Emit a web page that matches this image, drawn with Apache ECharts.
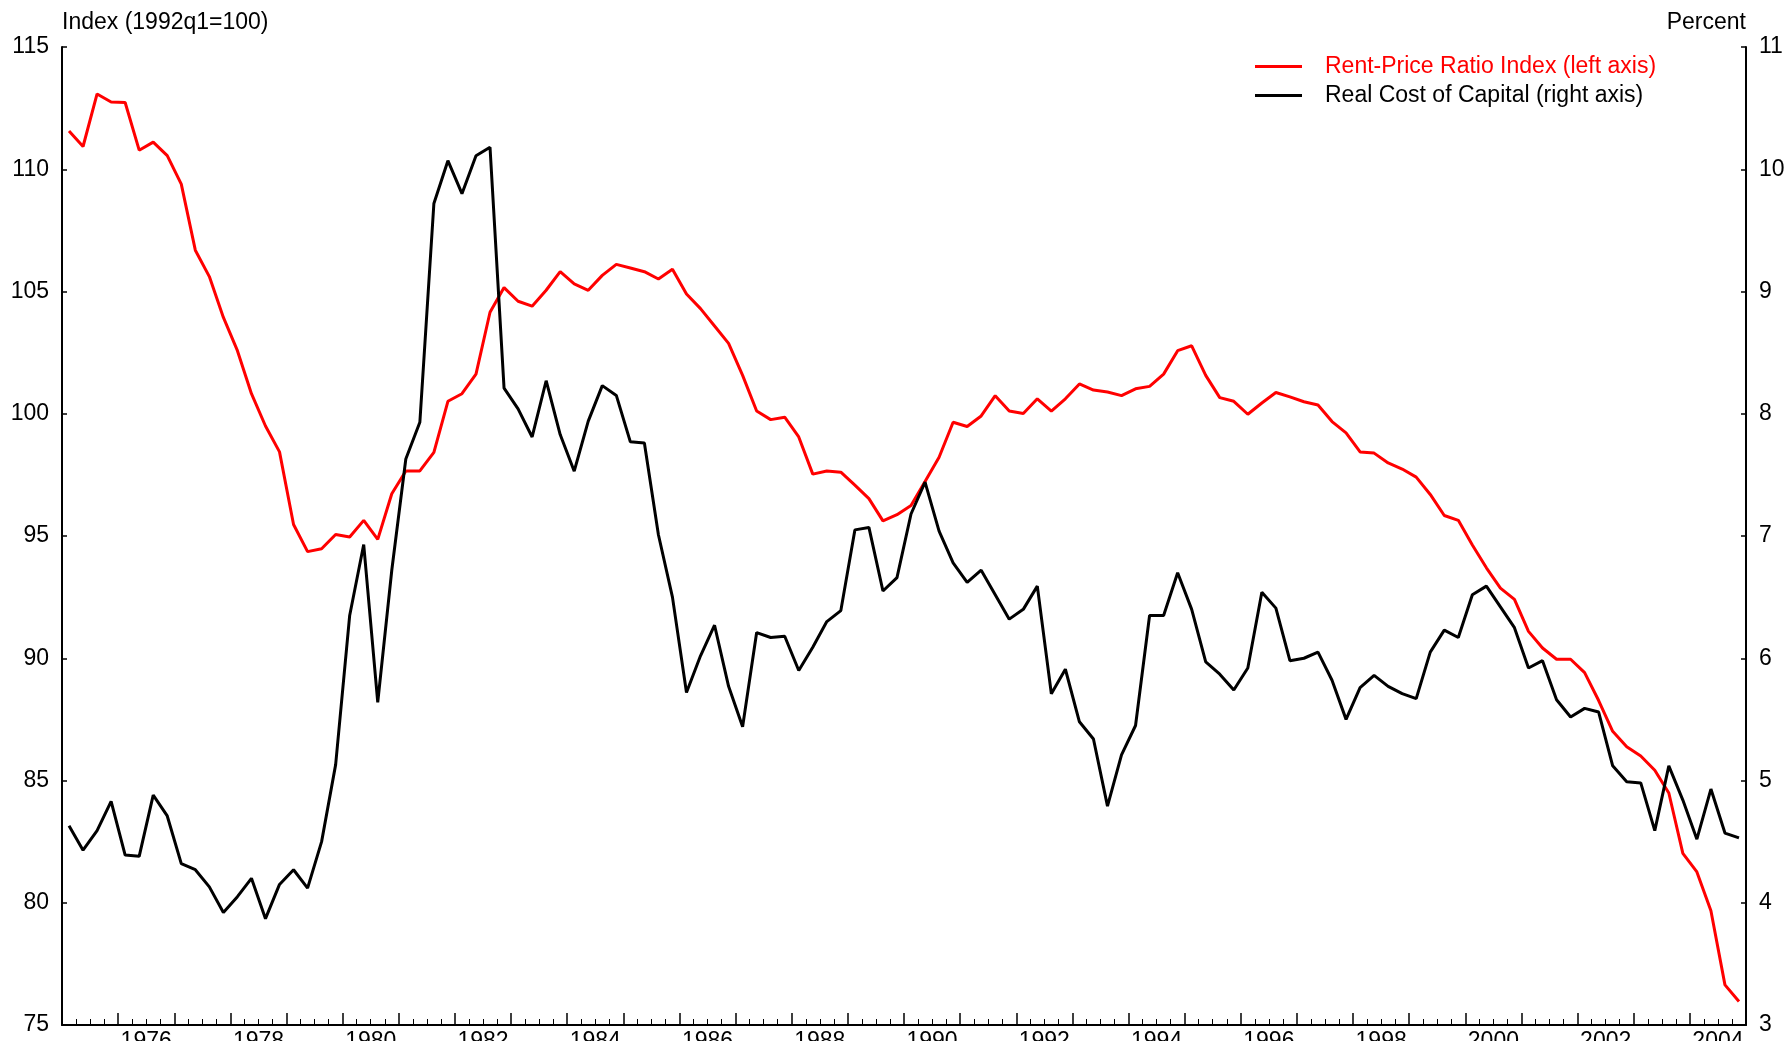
<!DOCTYPE html>
<html>
<head>
<meta charset="utf-8">
<title>Rent-Price Ratio and Real Cost of Capital</title>
<script src="https://cdn.jsdelivr.net/npm/echarts@6/dist/echarts.min.js"></script>
<style>
  html, body { margin: 0; padding: 0; background: #fff; }
  #main { width: 1789px; height: 1041px; }
</style>
</head>
<body>
<div id="main"></div>
<script>
// quarterly data, 1975q1 - 2004q4
const startYear = 1975;
const endYear = 2004;

const rentPrice = [
  111.56, 110.93, 113.08, 112.75, 112.73, 110.78, 111.11, 110.56, 109.39, 106.69,
  105.61, 103.94, 102.58, 100.82, 99.50, 98.44, 95.47, 94.36, 94.48, 95.06,
  94.96, 95.64, 94.86, 96.73, 97.66, 97.66, 98.42, 100.51, 100.82, 101.62,
  104.15, 105.16, 104.60, 104.40, 105.05, 105.81, 105.31, 105.05, 105.66, 106.11,
  105.96, 105.81, 105.51, 105.91, 104.90, 104.30, 103.59, 102.88, 101.57, 100.11,
  99.76, 99.86, 99.05, 97.53, 97.66, 97.61, 97.08, 96.53, 95.62, 95.87,
  96.25, 97.23, 98.22, 99.65, 99.48, 99.91, 100.74, 100.11, 100.01, 100.61,
  100.11, 100.61, 101.22, 100.97, 100.89, 100.74, 101.02, 101.12, 101.62, 102.58,
  102.78, 101.57, 100.66, 100.51, 99.98, 100.44, 100.87, 100.69, 100.49, 100.36,
  99.68, 99.22, 98.44, 98.39, 97.99, 97.74, 97.41, 96.70, 95.84, 95.64,
  94.63, 93.70, 92.87, 92.41, 91.10, 90.42, 89.96, 89.96, 89.41, 88.27,
  87.01, 86.38, 86.00, 85.42, 84.49, 82.02, 81.26, 79.67, 76.64, 75.96
];

const costCapital = [
  4.63, 4.43, 4.59, 4.83, 4.39, 4.38, 4.88, 4.71, 4.32, 4.27,
  4.13, 3.92, 4.05, 4.20, 3.87, 4.15, 4.27, 4.12, 4.50, 5.13,
  6.35, 6.93, 5.64, 6.72, 7.63, 7.93, 9.72, 10.07, 9.80, 10.11,
  10.18, 8.21, 8.04, 7.81, 8.27, 7.83, 7.53, 7.94, 8.23, 8.15,
  7.77, 7.76, 7.01, 6.50, 5.72, 6.02, 6.27, 5.77, 5.44, 6.21,
  6.17, 6.18, 5.90, 6.09, 6.30, 6.39, 7.05, 7.07, 6.55, 6.66,
  7.18, 7.44, 7.04, 6.78, 6.62, 6.72, 6.52, 6.32, 6.40, 6.59,
  5.71, 5.91, 5.48, 5.34, 4.79, 5.21, 5.45, 6.35, 6.35, 6.70,
  6.40, 5.97, 5.87, 5.74, 5.92, 6.54, 6.41, 5.98, 6.00, 6.05,
  5.82, 5.50, 5.76, 5.86, 5.77, 5.71, 5.67, 6.05, 6.23, 6.17,
  6.52, 6.59, 6.42, 6.25, 5.92, 5.98, 5.66, 5.52, 5.59, 5.56,
  5.12, 4.99, 4.98, 4.59, 5.12, 4.84, 4.52, 4.93, 4.57, 4.53
];

const yearLabels = ['1976', '1978', '1980', '1982', '1984', '1986', '1988', '1990',
  '1992', '1994', '1996', '1998', '2000', '2002', '2004'];

const leftTicks = [75, 80, 85, 90, 95, 100, 105, 110, 115];
const rightTicks = [3, 4, 5, 6, 7, 8, 9, 10, 11];

const quarters = [];
for (let y = startYear; y <= endYear; y++) {
  for (let q = 1; q <= 4; q++) quarters.push(y + 'q' + q);
}

const font = 'Liberation Sans, Arial, Helvetica, sans-serif';
const fs = 23;
const redName = 'Rent-Price Ratio Index (left axis)';
const blackName = 'Real Cost of Capital (right axis)';

const chart = echarts.init(document.getElementById('main'));
chart.setOption({
  animation: false,
  backgroundColor: '#fff',
  textStyle: { fontFamily: font, color: '#000' },
  grid: { left: 62, right: 43, top: 47, bottom: 16, containLabel: false, outerBoundsMode: 'none' },
  legend: {
    left: 1255,
    top: 55,
    orient: 'vertical',
    padding: 0,
    icon: 'rect',
    itemWidth: 47,
    itemHeight: 3,
    itemGap: 6,
    textStyle: { fontSize: fs, lineHeight: 23, fontFamily: font, padding: [0, 0, 0, 18] },
    data: [
      { name: redName, textStyle: { color: '#ff0000' } },
      { name: blackName, textStyle: { color: '#000000' } }
    ]
  },
  xAxis: [
    {
      // data axis: one band per quarter
      type: 'category',
      data: quarters,
      boundaryGap: true,
      show: false
    },
    {
      // year ticks with quarter minor ticks
      type: 'value',
      position: 'bottom',
      min: startYear,
      max: endYear + 1,
      interval: 1,
      axisLine: { show: true, lineStyle: { color: '#000', width: 2 } },
      axisTick: { show: true, inside: true, length: 12, lineStyle: { color: '#000', width: 1.5 } },
      minorTick: { show: true, splitNumber: 4, length: 6, lineStyle: { color: '#000', width: 1 } },
      axisLabel: { show: false },
      splitLine: { show: false }
    },
    {
      // labels centred on the year (shifted half a year)
      type: 'value',
      position: 'bottom',
      min: startYear - 0.5,
      max: endYear + 0.5,
      interval: 0.5,
      axisLine: { show: false },
      axisTick: { show: false },
      splitLine: { show: false },
      axisLabel: {
        show: true,
        margin: 5,
        fontSize: fs,
        color: '#000',
        formatter: function (v) {
          const s = String(v);
          return yearLabels.indexOf(s) >= 0 ? s : '';
        }
      }
    }
  ],
  yAxis: [
    {
      type: 'value',
      position: 'left',
      min: leftTicks[0],
      max: leftTicks[leftTicks.length - 1],
      interval: 5,
      name: 'Index (1992q1=100)',
      nameLocation: 'end',
      nameGap: 24,
      nameTextStyle: { fontSize: fs, color: '#000', align: 'left', verticalAlign: 'middle' },
      axisLine: { show: true, lineStyle: { color: '#000', width: 2 } },
      axisTick: { show: true, inside: true, length: 5, lineStyle: { color: '#000', width: 1.5 } },
      axisLabel: { fontSize: fs, color: '#000', margin: 13 },
      splitLine: { show: false }
    },
    {
      type: 'value',
      position: 'right',
      min: rightTicks[0],
      max: rightTicks[rightTicks.length - 1],
      interval: 1,
      name: 'Percent',
      nameLocation: 'end',
      nameGap: 24,
      nameTextStyle: { fontSize: fs, color: '#000', align: 'right', verticalAlign: 'middle' },
      axisLine: { show: true, lineStyle: { color: '#000', width: 2 } },
      axisTick: { show: true, inside: true, length: 5, lineStyle: { color: '#000', width: 1.5 } },
      axisLabel: { fontSize: fs, color: '#000', margin: 13 },
      splitLine: { show: false }
    }
  ],
  series: [
    {
      name: redName,
      type: 'line',
      xAxisIndex: 0,
      yAxisIndex: 0,
      data: rentPrice,
      symbol: 'none',
      color: '#ff0000',
      lineStyle: { color: '#ff0000', width: 3 }
    },
    {
      name: blackName,
      type: 'line',
      xAxisIndex: 0,
      yAxisIndex: 1,
      data: costCapital,
      symbol: 'none',
      color: '#000000',
      lineStyle: { color: '#000000', width: 3 }
    }
  ]
});
</script>
</body>
</html>
